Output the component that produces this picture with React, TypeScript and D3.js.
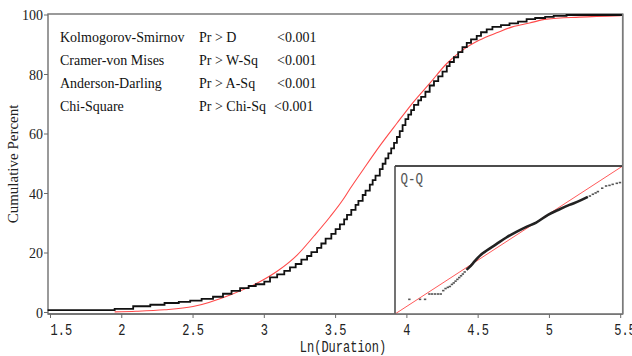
import React from "react";
import * as d3 from "d3";

// ---- data ----
const ecdfX = [1.48, 1.95, 2.08, 2.2, 2.3, 2.4, 2.48, 2.56, 2.64, 2.71, 2.77, 2.83, 2.89, 2.94, 3.0, 3.04, 3.09, 3.14, 3.18, 3.22, 3.26, 3.3, 3.33, 3.37, 3.4, 3.43, 3.47, 3.5, 3.53, 3.56, 3.58, 3.61, 3.64, 3.66, 3.69, 3.71, 3.74, 3.76, 3.78, 3.81, 3.83, 3.85, 3.87, 3.89, 3.91, 3.93, 3.95, 3.97, 3.99, 4.01, 4.03, 4.05, 4.08, 4.1, 4.13, 4.16, 4.19, 4.22, 4.25, 4.28, 4.3, 4.33, 4.36, 4.39, 4.42, 4.45, 4.49, 4.52, 4.56, 4.6, 4.66, 4.72, 4.78, 4.84, 4.9, 4.97, 5.03, 5.12, 5.51];
const ecdfP = [0.8, 1.2, 2.1, 2.6, 3.2, 3.6, 4.0, 4.6, 5.3, 6.3, 7.3, 8.2, 8.9, 9.5, 10.4, 11.8, 12.8, 14.0, 15.2, 16.3, 17.8, 19.0, 20.3, 21.7, 23.2, 24.8, 26.4, 28.0, 29.6, 31.3, 32.8, 34.5, 36.2, 37.5, 39.5, 41.0, 43.0, 44.5, 46.0, 48.2, 50.0, 51.8, 53.5, 55.2, 57.0, 59.0, 61.0, 63.0, 65.0, 66.5, 68.0, 69.8, 71.3, 72.5, 74.2, 76.3, 77.8, 79.4, 81.0, 82.8, 84.2, 85.8, 87.5, 89.2, 90.6, 91.8, 93.0, 94.2, 95.2, 96.0, 96.6, 97.2, 97.8, 98.6, 99.0, 99.4, 99.7, 100, 100];

const normX = [1.95, 2.1, 2.3, 2.5, 2.76, 2.99, 3.1, 3.23, 3.35, 3.46, 3.55, 3.6, 3.7, 3.81, 3.93, 4.04, 4.16, 4.28, 4.39, 4.51, 4.63, 4.74, 4.86, 4.98, 5.21, 5.5];
const normP = [0.2, 0.4, 0.9, 2.0, 5.9, 10.9, 14.2, 19.3, 25.8, 32.1, 37.8, 41.5, 48.5, 56.0, 63.6, 70.4, 77.0, 83.7, 88.2, 91.6, 94.0, 96.0, 97.3, 98.6, 99.3, 99.8];

// Q-Q inset (relative units 0..1 in the inset box)
const qqDenseU = [0.314, 0.328, 0.343, 0.358, 0.372, 0.401, 0.445, 0.489, 0.533, 0.577, 0.62, 0.672, 0.723, 0.766, 0.81, 0.847];
const qqDenseV = [0.298, 0.318, 0.344, 0.371, 0.393, 0.427, 0.472, 0.517, 0.555, 0.589, 0.618, 0.67, 0.708, 0.737, 0.764, 0.791];
const qqSparseU = [0.063, 0.11, 0.132, 0.151, 0.163, 0.176, 0.189, 0.201, 0.212, 0.222, 0.232, 0.241, 0.25, 0.258, 0.266, 0.274, 0.282, 0.29, 0.298, 0.306, 0.856, 0.869, 0.881, 0.891, 0.91, 0.927, 0.942, 0.956, 0.974, 0.988];
const qqSparseV = [0.099, 0.099, 0.099, 0.135, 0.135, 0.135, 0.135, 0.135, 0.158, 0.172, 0.18, 0.186, 0.2, 0.21, 0.222, 0.234, 0.246, 0.258, 0.27, 0.284, 0.797, 0.809, 0.818, 0.827, 0.85, 0.865, 0.869, 0.876, 0.883, 0.888];

const xTicks = [1.5, 2, 2.5, 3, 3.5, 4, 4.5, 5, 5.5];
const xTickLabels = ["1.5", "2", "2.5", "3", "3.5", "4", "4.5", "5", "5.5"];
const yTicks = [0, 20, 40, 60, 80, 100];

const testNames = ["Kolmogorov-Smirnov", "Cramer-von Mises", "Anderson-Darling", "Chi-Square"];
const testStats = ["Pr > D", "Pr > W-Sq", "Pr > A-Sq", "Pr > Chi-Sq"];
const testPvals = ["<0.001", "<0.001", "<0.001", "<0.001"];

const SERIF = "'Liberation Serif', 'Times New Roman', Times, 'DejaVu Serif', serif";
const MONO = "'Liberation Mono', 'Courier New', Courier, 'DejaVu Sans Mono', monospace";

export default function App() {
  const W = 632, H = 356;
  const left = 48, right = 622.7, top = 14, bottom = 314;
  const x = d3.scaleLinear().domain([1.5, 5.5]).range([50.5, 620.7]);
  const y = d3.scaleLinear().domain([0, 100]).range([312.5, 15]);

  const ecdfLine = d3
    .line<number>()
    .x((_, i) => x(ecdfX[i]))
    .y((d) => y(d))
    .curve(d3.curveStepAfter)(ecdfP) as string;

  const normLine = d3
    .line<number>()
    .x((_, i) => x(normX[i]))
    .y((d) => y(d))
    .curve(d3.curveMonotoneX)(normP) as string;

  // inset
  const iL = 395, iT = 166, iR = right, iB = bottom;
  const u = d3.scaleLinear().domain([0, 1]).range([iL, iR]);
  const v = d3.scaleLinear().domain([0, 1]).range([iB, iT]);
  const qqLine = d3
    .line<number>()
    .x((_, i) => u(qqDenseU[i]))
    .y((d) => v(d))
    .curve(d3.curveMonotoneX)(qqDenseV) as string;

  const monoStretch = (tx: number, ty: number) => `translate(${tx},${ty}) scale(1,1.3)`;
  const rowY = [41.5, 64.5, 87.5, 111];
  const col3X = [277, 277, 277, 274];

  return (
    <svg width={W} height={H} style={{ display: "block", position: "absolute", left: 0, top: 0, background: "#fff" }}>
      <rect x={0} y={0} width={W} height={H} fill="#fff" />
      {/* frame */}
      <rect x={left} y={top} width={right - left} height={bottom - top} fill="none" stroke="#7a7a7a" strokeWidth={1.5} />

      {/* curves */}
      <path d={normLine} fill="none" stroke="#ff4a4a" strokeWidth={1.1} />
      <path d={ecdfLine} fill="none" stroke="#111" strokeWidth={1.8} />

      {/* inset */}
      <rect x={iL} y={iT} width={iR - iL} height={iB - iT} fill="#fff" stroke="none" />
      <line x1={u(0)} y1={v(0)} x2={u(1)} y2={v(1)} stroke="#ff5a5a" strokeWidth={1} />
      <path d={qqLine} fill="none" stroke="#222" strokeWidth={2.6} />
      {qqSparseU.map((q, i) => (
        <rect key={i} x={u(q) - 1.2} y={v(qqSparseV[i]) - 0.8} width={2.4} height={1.6} fill="#555" />
      ))}
      <line x1={iL} y1={iT} x2={iR} y2={iT} stroke="#111" strokeWidth={1.5} />
      <line x1={iL} y1={iT} x2={iL} y2={iB} stroke="#444" strokeWidth={1.5} />
      <text transform={monoStretch(400.5, 184)} fontFamily={MONO} fontSize={12.5} fill="#555">Q-Q</text>

      {/* main frame lines redrawn on top */}
      <line x1={left} y1={bottom} x2={right} y2={bottom} stroke="#6a6a6a" strokeWidth={1.5} />
      <line x1={right} y1={top} x2={right} y2={bottom} stroke="#7a7a7a" strokeWidth={1.5} />

      {/* y axis */}
      {yTicks.map((t) => (
        <g key={t}>
          <line x1={44} x2={left} y1={y(t)} y2={y(t)} stroke="#6a6a6a" strokeWidth={1} />
          <text x={43} y={y(t) + 5} textAnchor="end" fontFamily={SERIF} fontSize={14} fill="#222">{t}</text>
        </g>
      ))}
      <text transform="translate(18,164) rotate(-90)" textAnchor="middle" fontFamily={SERIF} fontSize={15} fill="#222">Cumulative Percent</text>

      {/* x axis */}
      {xTicks.map((t, i) => {
        const px = x(t);
        const first = i === 0;
        const last = i === xTicks.length - 1;
        const tx = first ? px : last ? px - 6.5 : px;
        return (
          <g key={t}>
            <line x1={px} x2={px} y1={bottom} y2={bottom + 4} stroke="#6a6a6a" strokeWidth={1} />
            <text transform={monoStretch(tx, 335)} textAnchor={first || last ? "start" : "middle"} fontFamily={MONO} fontSize={12} fill="#222">{xTickLabels[i]}</text>
          </g>
        );
      })}
      <text transform={monoStretch(343, 352)} textAnchor="middle" fontFamily={MONO} fontSize={12} fill="#222">Ln(Duration)</text>

      {/* test table */}
      {testNames.map((n, i) => (
        <g key={n} fontFamily={SERIF} fontSize={14} fill="#111">
          <text x={60} y={rowY[i]}>{n}</text>
          <text x={199} y={rowY[i]}>{testStats[i]}</text>
          <text x={col3X[i]} y={rowY[i]}>{testPvals[i]}</text>
        </g>
      ))}
    </svg>
  );
}
